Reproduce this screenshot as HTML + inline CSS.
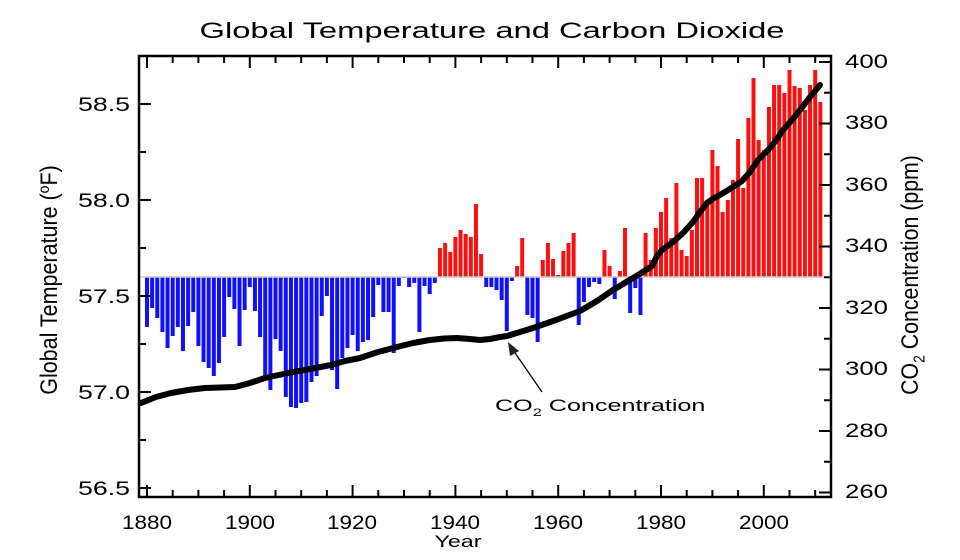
<!DOCTYPE html>
<html><head><meta charset="utf-8"><style>
html,body{margin:0;padding:0;background:#fff;}
svg{display:block;font-family:"Liberation Sans",Arial,sans-serif;}
</style></head><body>
<svg id="s" width="960" height="560" viewBox="0 0 960 560" xmlns="http://www.w3.org/2000/svg">
<rect width="960" height="560" fill="#fff"/>
<text x="492" y="38" font-size="22" text-anchor="middle" textLength="585" lengthAdjust="spacingAndGlyphs" fill="#000">Global Temperature and Carbon Dioxide</text>
<g id="bars"></g>
<line x1="139" y1="277" x2="831" y2="277" stroke="#c8c8c8" stroke-width="1.5"/>
<polyline fill="none" stroke="#000" stroke-width="6" stroke-linejoin="round" stroke-linecap="round" points="141,403 156,397 171,393 188,390 205,388 220,387.5 235,387 250,383 265,378 288,373 310,369 331,365 345,361 360,358 378,352 397,347 413,343 430,340 444,338.5 457,338 470,339 480,340 490,339 500,337 507,336 520,332 533,328 556,320 580,311 597,301 613,290 628,281 643,272 652,266 657,256 662,250 673,242 683,233 693,222 700,212 707,203 714,198 720,195 733,187 742,181 750,172 758,160 770,148 777,139 783,130 792,120 800,110 810,97 820,85"/>
<g id="ticks" stroke="#000" stroke-width="2"></g>
<rect x="139" y="56" width="692" height="441" fill="none" stroke="#000" stroke-width="2.5"/>
<g font-size="19" fill="#000" text-anchor="end">
<text x="130" y="111" textLength="52" lengthAdjust="spacingAndGlyphs">58.5</text>
<text x="130" y="207" textLength="52" lengthAdjust="spacingAndGlyphs">58.0</text>
<text x="130" y="303" textLength="52" lengthAdjust="spacingAndGlyphs">57.5</text>
<text x="130" y="399" textLength="52" lengthAdjust="spacingAndGlyphs">57.0</text>
<text x="130" y="495" textLength="52" lengthAdjust="spacingAndGlyphs">56.5</text>
</g>
<g font-size="19" fill="#000" text-anchor="start">
<text x="845" y="68" textLength="43" lengthAdjust="spacingAndGlyphs">400</text>
<text x="845" y="129" textLength="43" lengthAdjust="spacingAndGlyphs">380</text>
<text x="845" y="191" textLength="43" lengthAdjust="spacingAndGlyphs">360</text>
<text x="845" y="252" textLength="43" lengthAdjust="spacingAndGlyphs">340</text>
<text x="845" y="314" textLength="43" lengthAdjust="spacingAndGlyphs">320</text>
<text x="845" y="375" textLength="43" lengthAdjust="spacingAndGlyphs">300</text>
<text x="845" y="437" textLength="43" lengthAdjust="spacingAndGlyphs">280</text>
<text x="845" y="498" textLength="43" lengthAdjust="spacingAndGlyphs">260</text>
</g>
<g font-size="19" fill="#000" text-anchor="middle">
<text x="147" y="529" textLength="50" lengthAdjust="spacingAndGlyphs">1880</text>
<text x="250" y="529" textLength="50" lengthAdjust="spacingAndGlyphs">1900</text>
<text x="352" y="529" textLength="50" lengthAdjust="spacingAndGlyphs">1920</text>
<text x="455" y="529" textLength="50" lengthAdjust="spacingAndGlyphs">1940</text>
<text x="558" y="529" textLength="50" lengthAdjust="spacingAndGlyphs">1960</text>
<text x="661" y="529" textLength="50" lengthAdjust="spacingAndGlyphs">1980</text>
<text x="764" y="529" textLength="50" lengthAdjust="spacingAndGlyphs">2000</text>
<text x="458" y="547" font-size="17" textLength="47" lengthAdjust="spacingAndGlyphs">Year</text>
</g>
<text transform="translate(57,280) scale(1.12,1) rotate(-90)" font-size="21.5" text-anchor="middle">Global Temperature (<tspan font-size="14" dy="-7">o</tspan><tspan dy="7">F)</tspan></text>
<text transform="translate(918,275) scale(1.12,1) rotate(-90)" font-size="21.3" text-anchor="middle">CO<tspan font-size="14" dy="6">2</tspan><tspan dy="-6"> Concentration (ppm)</tspan></text>
<line x1="542" y1="392" x2="511" y2="347" stroke="#000" stroke-width="1.3"/>
<polygon points="508,342 510,356 519,351" fill="#222"/>
<text transform="translate(495,411) scale(1.48,1)" font-size="17">CO<tspan font-size="11" dy="5">2</tspan><tspan dy="-5"> Concentration</tspan></text>
</svg>
<script>
var d=[327,308,318,332,348,336,327,351,326,312,346,362,368,376,363,337,297,309,346,310,287,311,337,378,390,339,351,397,407,408,403,402,382,376,316,296,370,389,358,348,335,351,342,340,317,285,312,312,353,286,278,287,283,332,286,294,283,248,243,252,237,230,234,237,204,254,287,287,290,300,331,281,266,238,315,318,342,260,243,259,275,251,243,233,325,302,287,282,284,250,266,299,271,228,313,288,315,233,260,228,212,198,238,183,250,256,230,178,178,203,150,166,212,200,180,139,188,118,78,140,150,107,85,85,93,70,86,88,110,85,70,102];
var ns="http://www.w3.org/2000/svg",g=document.getElementById("bars"),B=277;
for(var i=0;i<d.length;i++){var x=147+i*5.14-2,y=d[i],r=document.createElementNS(ns,"rect");
r.setAttribute("x",x);r.setAttribute("width",4);
if(y<B){r.setAttribute("y",y);r.setAttribute("height",B-y);r.setAttribute("fill","#ff1010");}
else{r.setAttribute("y",B);r.setAttribute("height",y-B);r.setAttribute("fill","#1010ff");}
g.appendChild(r);}
var t=document.getElementById("ticks");
function L(a,b,c,e){var l=document.createElementNS(ns,"line");l.setAttribute("x1",a);l.setAttribute("y1",b);l.setAttribute("x2",c);l.setAttribute("y2",e);t.appendChild(l);}
for(var yr=1880;yr<=2010;yr+=5){var x=147+(yr-1880)*5.14,len=(yr%20==0)?12:7;L(x,56,x,56+len);L(x,497,x,497-len);}
for(var k=0;k<=8;k++){var y=104+k*48,len=(k%2==0)?12:7;L(139,y,139+len,y);}
for(var p=260;p<=400;p+=10){var y=62+(400-p)*3.075,len=(p%20==0)?12:7;L(831,y,831-len,y);}
</script>
</body></html>
